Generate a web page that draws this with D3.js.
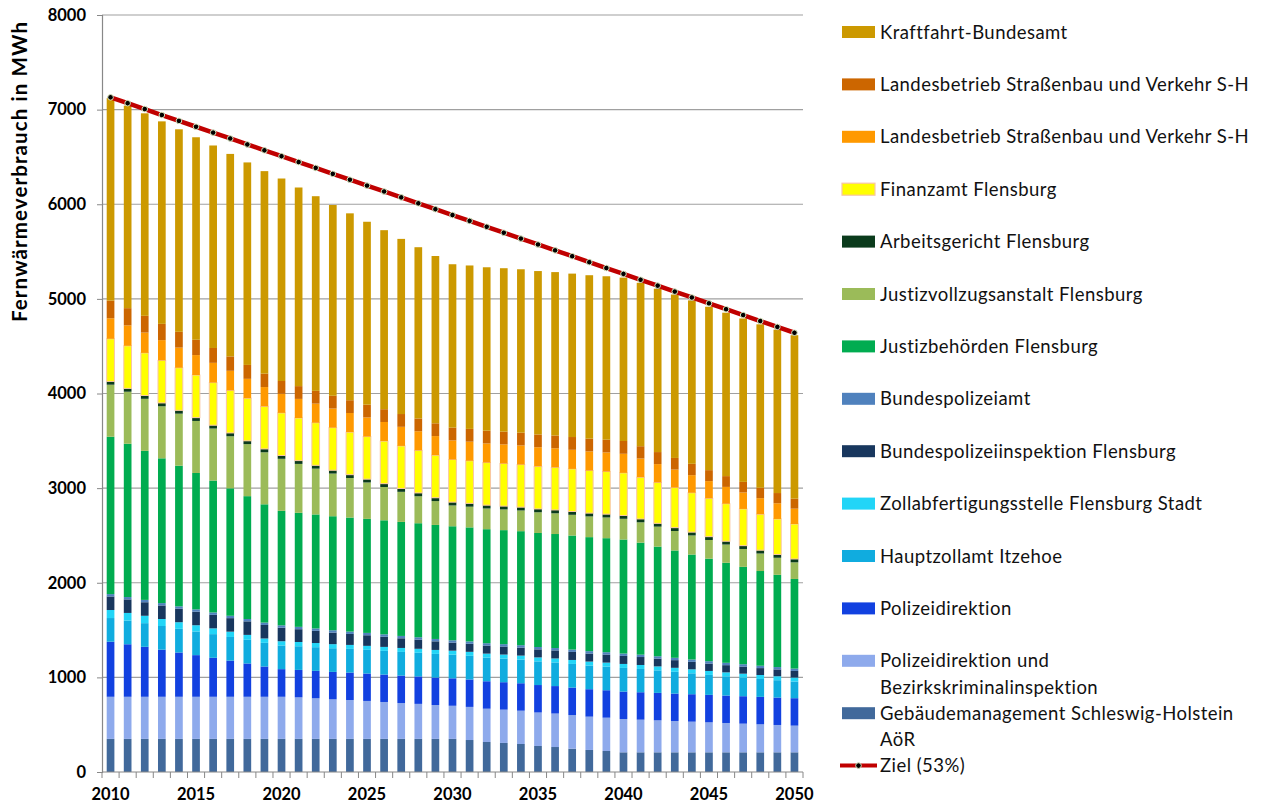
<!DOCTYPE html>
<html><head><meta charset="utf-8">
<script src="https://cdn.jsdelivr.net/npm/d3@7"></script>
<style>body{margin:0;background:#fff;} svg{display:block;font-family:Lato,'Open Sans',sans-serif;}</style>
</head><body><svg id="c" width="1261" height="812"></svg>
<script>
const years = [2010,2011,2012,2013,2014,2015,2016,2017,2018,2019,2020,2021,2022,2023,2024,2025,2026,2027,2028,2029,2030,2031,2032,2033,2034,2035,2036,2037,2038,2039,2040,2041,2042,2043,2044,2045,2046,2047,2048,2049,2050];
const xTickLabels = ["2010","2015","2020","2025","2030","2035","2040","2045","2050"];
const yTicks = [0,1000,2000,3000,4000,5000,6000,7000,8000];

// series values, bottom to top
const geb = [350,350,350,350,350,350,350,350,350,350,350,350,350,350,350,350,350,350,350,350,350,338,317,307,296,275,264,246,233,222,208,208,208,208,208,208,208,208,208,208,208];
const pdBki = [445,445,445,445,445,445,445,445,445,445,445,439,429,418,411,401,390,379,370,358,350,350,352,352,352,354,354,356,352,352,352,345,338,331,324,317,310,303,296,289,282];
const pd = [582,555,528,498,468,440,412,382,352,320,292,290,290,290,290,290,290,290,290,290,290,290,290,290,290,290,290,290,290,290,290,290,290,290,290,290,290,290,290,290,290];
const hza = [250,250,250,250,250,250,250,250,250,250,250,250,250,250,250,250,250,250,250,250,250,250,250,250,250,250,250,250,250,250,250,246,238,230,221,211,203,196,189,183,176];
const zoll = [85,81,78,74,70,66,61,56,52,46,45,45,44,43,42,42,42,42,42,42,42,42,42,42,42,42,42,42,42,42,42,42,42,42,42,42,42,42,42,42,42];
const bpi = [143,143,143,143,143,143,143,143,143,143,143,135,129,122,116,112,108,102,97,91,85,85,85,85,85,85,85,85,85,85,85,84,82,81,79,78,76,75,73,72,70];
const bpa = [25,25,25,25,25,25,25,25,25,25,25,25,25,25,25,25,25,25,25,25,25,25,25,25,25,25,25,25,25,25,25,25,25,25,25,25,25,25,25,25,25];
const jb = [1663,1620,1575,1530,1486,1441,1394,1347,1298,1250,1210,1205,1205,1205,1205,1205,1205,1205,1205,1205,1205,1205,1205,1205,1205,1205,1205,1205,1205,1205,1205,1184,1159,1134,1109,1084,1057,1029,1001,975,947];
const jva = [550,550,550,550,550,550,550,550,550,550,550,517,484,451,418,385,352,318,285,252,220,219,219,219,219,219,219,219,219,219,219,215,211,206,202,197,193,189,185,180,176];
const ag = [35,35,35,35,35,35,35,35,35,35,35,35,35,35,35,35,35,35,35,35,35,35,35,35,35,35,35,35,35,35,35,35,35,35,35,35,35,35,35,35,35];
const fa = [450,450,450,450,450,450,450,450,450,450,450,450,450,450,450,450,450,450,450,450,450,450,450,450,450,450,450,450,450,450,450,441,432,424,416,405,396,388,380,375,370];
const lbvOrange = [217,216,215,214,213,211,209,207,205,204,202,202,202,202,202,202,202,202,202,202,202,202,202,202,202,202,202,202,202,202,202,198,194,190,186,182,178,174,170,166,162];
const lbvDark = [187,182,177,172,167,162,157,152,147,142,135,135,135,135,135,135,135,135,135,135,135,135,135,135,135,135,135,135,135,135,135,130,127,123,120,116,114,112,110,108,106];
const kba = [2140,2140,2140,2140,2140,2140,2140,2140,2140,2140,2140,2099,2057,2016,1975,1933,1892,1851,1810,1768,1727,1727,1727,1727,1727,1727,1727,1727,1727,1727,1727,1727,1727,1727,1727,1727,1727,1727,1727,1727,1727];
const ziel = [7130,7068,7006,6943,6881,6819,6757,6695,6632,6570,6508,6446,6384,6321,6259,6197,6135,6073,6010,5948,5886,5824,5762,5699,5637,5575,5513,5451,5388,5326,5264,5202,5140,5077,5015,4953,4891,4829,4766,4704,4642];

const series = [
  {key:"geb", name:["Gebäudemanagement Schleswig-Holstein","AöR"], color:"#41699b", values:geb},
  {key:"pdBki", name:["Polizeidirektion und","Bezirkskriminalinspektion"], color:"#8eaaec", values:pdBki},
  {key:"pd", name:["Polizeidirektion"], color:"#1241e0", values:pd},
  {key:"hza", name:["Hauptzollamt Itzehoe"], color:"#10acdf", values:hza},
  {key:"zoll", name:["Zollabfertigungsstelle Flensburg Stadt"], color:"#22d5f7", values:zoll},
  {key:"bpi", name:["Bundespolizeiinspektion Flensburg"], color:"#18375e", values:bpi},
  {key:"bpa", name:["Bundespolizeiamt"], color:"#4f81bd", values:bpa},
  {key:"jb", name:["Justizbehörden Flensburg"], color:"#00ac50", values:jb},
  {key:"jva", name:["Justizvollzugsanstalt Flensburg"], color:"#9bbb59", values:jva},
  {key:"ag", name:["Arbeitsgericht Flensburg"], color:"#0b3b1c", values:ag},
  {key:"fa", name:["Finanzamt Flensburg"], color:"#ffff00", stroke:"#f8c6a4", values:fa},
  {key:"lbvOrange", name:["Landesbetrieb Straßenbau und Verkehr S-H"], color:"#ff9900", values:lbvOrange},
  {key:"lbvDark", name:["Landesbetrieb Straßenbau und Verkehr S-H"], color:"#cc6600", values:lbvDark},
  {key:"kba", name:["Kraftfahrt-Bundesamt"], color:"#cc9900", values:kba}
];

const table = years.map((yr,i)=>{const r={year:yr}; series.forEach(s=>r[s.key]=s.values[i]); return r;});

const svg = d3.select("#c");
const pLeft=102, pRight=803, pTop=15, pBottom=772;
const x = d3.scaleBand().domain(years).range([pLeft,pRight]).paddingInner(0.55).paddingOuter(0.275);
const y = d3.scaleLinear().domain([0,8000]).range([pBottom,pTop]);

// gridlines
svg.append("g").selectAll("line").data(yTicks.filter(d=>d>0)).join("line")
  .attr("x1",pLeft).attr("x2",pRight).attr("y1",d=>y(d)).attr("y2",d=>y(d))
  .attr("stroke","#a0a0a0").attr("stroke-width",1.2);

// stacked bars
const stack = d3.stack().keys(series.map(s=>s.key));
const stacked = stack(table);
const gBars = svg.append("g");
stacked.forEach((layer,li)=>{
  const s = series[li];
  gBars.append("g").selectAll("rect").data(layer).join("rect")
    .attr("x",d=>x(d.data.year)).attr("width",x.bandwidth())
    .attr("y",d=>y(d[1])).attr("height",d=>y(d[0])-y(d[1]))
    .attr("fill",s.color)
    .attr("stroke",s.stroke||null).attr("stroke-width",s.stroke?1:null);
});

// axes
const yAxis = d3.axisLeft(y).tickValues(yTicks).tickSize(5).tickPadding(11).tickFormat(d3.format("d"));
const gy = svg.append("g").attr("transform",`translate(${pLeft},0)`).call(yAxis);
gy.select(".domain").attr("stroke","#888").attr("stroke-width",1.2);
gy.selectAll(".tick line").attr("stroke","#888");
gy.selectAll("text").attr("font-size",16.5).attr("font-weight","bold").attr("fill","#000").attr("font-family","Lato");

const gx = svg.append("g").attr("transform",`translate(0,${pBottom})`);
gx.append("line").attr("x1",pLeft).attr("x2",pRight).attr("y1",0).attr("y2",0).attr("stroke","#888").attr("stroke-width",1.2);
const bounds = years.map(yr=>x(yr)-x.step()*x.paddingInner()/2);
bounds.push(pRight);
gx.selectAll("line.tk").data(bounds).join("line").attr("class","tk")
  .attr("x1",d=>d).attr("x2",d=>d).attr("y1",0).attr("y2",6).attr("stroke","#888");
gx.selectAll("text").data(xTickLabels).join("text")
  .attr("x",d=>x(+d)+x.bandwidth()/2).attr("y",28)
  .attr("text-anchor","middle").attr("font-size",16.5).attr("font-weight","bold").text(d=>d);

// y title
svg.append("text").attr("transform","translate(27,172) rotate(-90)")
  .attr("text-anchor","middle").attr("font-size",20.5).attr("font-weight","bold")
  .attr("textLength",300).attr("lengthAdjust","spacing")
  .text("Fernwärmeverbrauch in MWh");

// Ziel line
const line = d3.line().x((d,i)=>x(years[i])+x.bandwidth()/2).y(d=>y(d));
svg.append("path").datum(ziel).attr("d",line).attr("fill","none").attr("stroke","#c00000").attr("stroke-width",4.5);
svg.append("g").selectAll("circle").data(ziel).join("circle")
  .attr("cx",(d,i)=>x(years[i])+x.bandwidth()/2).attr("cy",d=>y(d)).attr("r",2.8)
  .attr("fill","#000").attr("stroke","#d7e4bd").attr("stroke-width",1);

// legend
const legendOrder = series.slice().reverse();
const lg = svg.append("g");
const ly0 = 32, lstep = 52.4;
legendOrder.forEach((s,i)=>{
  const cy = ly0 + i*lstep;
  lg.append("rect").attr("x",842).attr("y",cy-6).attr("width",33).attr("height",12)
    .attr("fill",s.color).attr("stroke",s.stroke||null).attr("stroke-width",s.stroke?1.2:null);
  s.name.forEach((t,j)=>{
    lg.append("text").attr("x",880).attr("y",cy+6.5+j*26.5).attr("font-size",18.5).attr("letter-spacing",0.45).attr("fill","#111").text(t);
  });
});
const zy = ly0 + legendOrder.length*lstep;
lg.append("line").attr("x1",840).attr("x2",877).attr("y1",zy).attr("y2",zy).attr("stroke","#c00000").attr("stroke-width",4);
lg.append("circle").attr("cx",858.5).attr("cy",zy).attr("r",2.8).attr("fill","#000").attr("stroke","#d7e4bd").attr("stroke-width",1);
lg.append("text").attr("x",880).attr("y",zy+6.5).attr("font-size",18.5).attr("letter-spacing",0.45).attr("fill","#111").text("Ziel (53%)");
</script></body></html>
